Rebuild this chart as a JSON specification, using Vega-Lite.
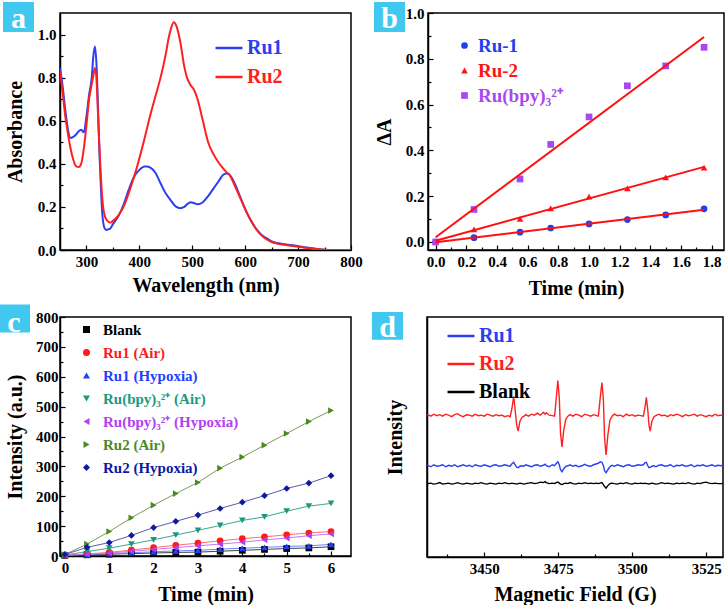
{
  "$schema": "https://vega.github.io/schema/vega-lite/v6.json",
  "padding": {"left": -3, "top": 1, "right": 0, "bottom": 0},
  "background": "white",
  "config": {
    "font": "Liberation Serif",
    "view": {"stroke": "black", "strokeWidth": 1.5},
    "axis": {
      "labelFont": "Liberation Serif", "labelFontSize": 15, "labelFontWeight": "bold", "labelColor": "black",
      "titleFont": "Liberation Serif", "titleFontSize": 20, "titleFontWeight": "bold", "titleColor": "black",
      "grid": false, "domainColor": "black", "domainWidth": 1.5, "tickColor": "black", "tickWidth": 1.2,
      "tickSize": -5, "labelPadding": 9, "labelFlush": false, "labelOverlap": false
    },
    "legend": {"labelFont": "Liberation Serif", "labelFontWeight": "bold", "labelLimit": 400, "padding": 0}
  },
  "spacing": 4,
  "resolve": {"scale": {"color": "independent", "shape": "independent", "stroke": "independent"}, "legend": {"color": "independent", "shape": "independent"}},
  "vconcat": [
    {
      "spacing": 10,
      "resolve": {"scale": {"color": "independent", "shape": "independent"}, "legend": {"color": "independent", "shape": "independent"}},
      "hconcat": [
        {
          "width": 291, "height": 237,
          "data": {"values": [
            {"wl": 250, "Ru1": 0.845, "Ru2": 0.83}, {"wl": 255, "Ru1": 0.76, "Ru2": 0.73}, {"wl": 260, "Ru1": 0.65, "Ru2": 0.62},
            {"wl": 265, "Ru1": 0.56, "Ru2": 0.54}, {"wl": 270, "Ru1": 0.52, "Ru2": 0.47}, {"wl": 275, "Ru1": 0.525, "Ru2": 0.42},
            {"wl": 280, "Ru1": 0.535, "Ru2": 0.39}, {"wl": 285, "Ru1": 0.55, "Ru2": 0.385}, {"wl": 290, "Ru1": 0.558, "Ru2": 0.4},
            {"wl": 295, "Ru1": 0.546, "Ru2": 0.47}, {"wl": 300, "Ru1": 0.62, "Ru2": 0.58}, {"wl": 305, "Ru1": 0.72, "Ru2": 0.7},
            {"wl": 310, "Ru1": 0.8, "Ru2": 0.77}, {"wl": 313, "Ru1": 0.9, "Ru2": 0.81}, {"wl": 316, "Ru1": 0.945, "Ru2": 0.845},
            {"wl": 319, "Ru1": 0.86, "Ru2": 0.79}, {"wl": 322, "Ru1": 0.65, "Ru2": 0.62}, {"wl": 325, "Ru1": 0.42, "Ru2": 0.45},
            {"wl": 328, "Ru1": 0.25, "Ru2": 0.31}, {"wl": 331, "Ru1": 0.14, "Ru2": 0.21}, {"wl": 335, "Ru1": 0.098, "Ru2": 0.155},
            {"wl": 338, "Ru1": 0.093, "Ru2": 0.14}, {"wl": 342, "Ru1": 0.097, "Ru2": 0.13}, {"wl": 345, "Ru1": 0.1, "Ru2": 0.127},
            {"wl": 350, "Ru1": 0.12, "Ru2": 0.135}, {"wl": 360, "Ru1": 0.155, "Ru2": 0.16}, {"wl": 370, "Ru1": 0.21, "Ru2": 0.2},
            {"wl": 380, "Ru1": 0.28, "Ru2": 0.265}, {"wl": 390, "Ru1": 0.34, "Ru2": 0.34}, {"wl": 400, "Ru1": 0.372, "Ru2": 0.425},
            {"wl": 410, "Ru1": 0.388, "Ru2": 0.52}, {"wl": 415, "Ru1": 0.388, "Ru2": 0.57}, {"wl": 420, "Ru1": 0.383, "Ru2": 0.62},
            {"wl": 430, "Ru1": 0.36, "Ru2": 0.71}, {"wl": 440, "Ru1": 0.31, "Ru2": 0.8}, {"wl": 450, "Ru1": 0.262, "Ru2": 0.91},
            {"wl": 455, "Ru1": 0.245, "Ru2": 0.98}, {"wl": 460, "Ru1": 0.228, "Ru2": 1.03}, {"wl": 465, "Ru1": 0.212, "Ru2": 1.057},
            {"wl": 470, "Ru1": 0.2, "Ru2": 1.04}, {"wl": 477, "Ru1": 0.194, "Ru2": 0.97}, {"wl": 485, "Ru1": 0.2, "Ru2": 0.85},
            {"wl": 490, "Ru1": 0.212, "Ru2": 0.8}, {"wl": 497, "Ru1": 0.222, "Ru2": 0.765}, {"wl": 503, "Ru1": 0.218, "Ru2": 0.745},
            {"wl": 510, "Ru1": 0.212, "Ru2": 0.7}, {"wl": 520, "Ru1": 0.222, "Ru2": 0.6}, {"wl": 530, "Ru1": 0.25, "Ru2": 0.5},
            {"wl": 540, "Ru1": 0.285, "Ru2": 0.445}, {"wl": 550, "Ru1": 0.32, "Ru2": 0.405}, {"wl": 558, "Ru1": 0.348, "Ru2": 0.38},
            {"wl": 565, "Ru1": 0.355, "Ru2": 0.36}, {"wl": 570, "Ru1": 0.35, "Ru2": 0.35}, {"wl": 580, "Ru1": 0.31, "Ru2": 0.3},
            {"wl": 590, "Ru1": 0.25, "Ru2": 0.245}, {"wl": 600, "Ru1": 0.19, "Ru2": 0.19}, {"wl": 610, "Ru1": 0.14, "Ru2": 0.14},
            {"wl": 620, "Ru1": 0.1, "Ru2": 0.1}, {"wl": 630, "Ru1": 0.072, "Ru2": 0.07}, {"wl": 640, "Ru1": 0.055, "Ru2": 0.05},
            {"wl": 650, "Ru1": 0.04, "Ru2": 0.037}, {"wl": 660, "Ru1": 0.033, "Ru2": 0.03}, {"wl": 680, "Ru1": 0.025, "Ru2": 0.022},
            {"wl": 700, "Ru1": 0.018, "Ru2": 0.015}, {"wl": 720, "Ru1": 0.01, "Ru2": 0.008}, {"wl": 740, "Ru1": 0.004, "Ru2": 0.003},
            {"wl": 760, "Ru1": 0.0, "Ru2": 0.0}, {"wl": 800, "Ru1": 0.0, "Ru2": 0.0}
          ]},
          "layer": [
            {
              "transform": [{"fold": ["Ru1", "Ru2"], "as": ["series", "abs"]}],
              "mark": {"type": "line", "strokeWidth": 2, "interpolate": "monotone", "clip": true},
              "encoding": {
                "x": {"field": "wl", "type": "quantitative", "scale": {"domain": [250, 800], "nice": false, "zero": false},
                      "axis": {"orient": "bottom", "values": [300, 400, 500, 600, 700, 800], "format": "d", "title": "Wavelength (nm)", "titlePadding": 6, "labelFont": "Liberation Serif"}},
                "y": {"field": "abs", "type": "quantitative", "scale": {"domain": [0, 1.1], "nice": false, "zero": false},
                      "axis": {"orient": "left", "values": [0, 0.2, 0.4, 0.6, 0.8, 1.0], "format": ".1f", "title": "Absorbance", "titlePadding": 12, "labelFont": "Liberation Serif"}},
                "color": {"field": "series", "type": "nominal", "scale": {"domain": ["Ru1", "Ru2"], "range": ["#2a3ff0", "#ff1f1f"]},
                  "legend": {"orient": "none", "legendX": 154, "legendY": 20, "title": null, "symbolType": "stroke", "symbolSize": 729,
                    "symbolStrokeWidth": 2.5, "labelFontSize": 20, "labelOffset": 3, "rowPadding": 4,
                    "encode": {"labels": {"update": {"fill": {"signal": "datum.value === 'Ru1' ? '#2a3ff0' : '#ff1f1f'"}}}}}}
              }
            },
            {
              "data": {"values": [{"label": "a"}]},
              "mark": {"type": "rect", "color": "#40c8f0", "clip": false},
              "encoding": {
                "x": {"datum": 142.3, "type": "quantitative", "scale": {"domain": [250, 800], "nice": false, "zero": false},
                      "axis": {"orient": "bottom", "values": [350, 450, 550, 650, 750], "labels": false, "domain": false, "title": null, "tickSize": -3}},
                "x2": {"datum": 200.9},
                "y": {"datum": 1.012, "type": "quantitative", "scale": {"domain": [0, 1.1], "nice": false, "zero": false},
                      "axis": {"orient": "left", "values": [0.1, 0.3, 0.5, 0.7, 0.9], "labels": false, "domain": false, "title": null, "tickSize": -3}},
                "y2": {"datum": 1.151}
              }
            },
            {
              "data": {"values": [{"label": "a"}]},
              "mark": {"type": "text", "color": "white", "font": "Liberation Serif", "fontSize": 30, "fontWeight": "bold", "align": "center", "baseline": "alphabetic", "clip": false},
              "encoding": {
                "x": {"datum": 171.6, "type": "quantitative", "axis": null},
                "y": {"datum": 1.03, "type": "quantitative", "axis": null},
                "text": {"field": "label"}
              }
            }
          ],
          "resolve": {"axis": {"x": "independent", "y": "independent"}}
        },
        {
          "width": 296, "height": 237,
          "data": {"values": [
            {"t": 0, "s": "Ru-1", "v": 0.0}, {"t": 0.25, "s": "Ru-1", "v": 0.019}, {"t": 0.55, "s": "Ru-1", "v": 0.043}, {"t": 0.75, "s": "Ru-1", "v": 0.061},
            {"t": 1.0, "s": "Ru-1", "v": 0.079}, {"t": 1.25, "s": "Ru-1", "v": 0.098}, {"t": 1.5, "s": "Ru-1", "v": 0.118}, {"t": 1.75, "s": "Ru-1", "v": 0.145},
            {"t": 0, "s": "Ru-2", "v": 0.002}, {"t": 0.25, "s": "Ru-2", "v": 0.055}, {"t": 0.55, "s": "Ru-2", "v": 0.101}, {"t": 0.75, "s": "Ru-2", "v": 0.147},
            {"t": 1.0, "s": "Ru-2", "v": 0.198}, {"t": 1.25, "s": "Ru-2", "v": 0.234}, {"t": 1.5, "s": "Ru-2", "v": 0.282}, {"t": 1.75, "s": "Ru-2", "v": 0.325},
            {"t": 0, "s": "Ru(bpy)₃²⁺", "v": 0.0}, {"t": 0.25, "s": "Ru(bpy)₃²⁺", "v": 0.142}, {"t": 0.55, "s": "Ru(bpy)₃²⁺", "v": 0.275}, {"t": 0.75, "s": "Ru(bpy)₃²⁺", "v": 0.426},
            {"t": 1.0, "s": "Ru(bpy)₃²⁺", "v": 0.546}, {"t": 1.25, "s": "Ru(bpy)₃²⁺", "v": 0.682}, {"t": 1.5, "s": "Ru(bpy)₃²⁺", "v": 0.769}, {"t": 1.75, "s": "Ru(bpy)₃²⁺", "v": 0.85}
          ]},
          "layer": [
            {
              "mark": {"type": "point", "filled": true, "size": 45, "opacity": 1},
              "encoding": {
                "x": {"field": "t", "type": "quantitative", "scale": {"domain": [-0.05, 1.88], "nice": false, "zero": false},
                      "axis": {"orient": "bottom", "values": [0, 0.2, 0.4, 0.6, 0.8, 1.0, 1.2, 1.4, 1.6, 1.8], "format": ".1f", "title": "Time (min)", "titlePadding": 9, "labelFont": "Liberation Serif"}},
                "y": {"field": "v", "type": "quantitative", "scale": {"domain": [-0.035, 1.0], "nice": false, "zero": false},
                      "axis": {"orient": "left", "values": [0, 0.2, 0.4, 0.6, 0.8, 1.0], "format": ".1f", "title": "ΔA", "titlePadding": 11, "labelFont": "Liberation Serif"}},
                "color": {"field": "s", "type": "nominal", "scale": {"domain": ["Ru-1", "Ru-2", "Ru(bpy)₃²⁺"], "range": ["#2040f0", "#ff1515", "#a848f0"]},
                  "legend": {"orient": "none", "legendX": 27, "legendY": 23, "title": null, "symbolSize": 45, "labelFontSize": 19, "labelOffset": 4, "rowPadding": 5,
                    "labelColor": {"expr": "datum.value === 'Ru-1' ? '#2040f0' : datum.value === 'Ru-2' ? '#ff1515' : '#a848f0'"},
                    "symbolType": {"expr": "datum.value === 'Ru-1' ? 'circle' : datum.value === 'Ru-2' ? 'triangle-up' : 'square'"}}},
                "shape": {"field": "s", "type": "nominal", "scale": {"range": ["square", "circle", "triangle-up"]}, "legend": null}
              }
            },
            {
              "transform": [{"regression": "v", "on": "t", "groupby": ["s"]}],
              "mark": {"type": "line", "color": "#ff1010", "strokeWidth": 2},
              "encoding": {
                "x": {"field": "t", "type": "quantitative", "axis": null},
                "y": {"field": "v", "type": "quantitative", "axis": null},
                "detail": {"field": "s"}
              }
            },
            {
              "data": {"values": [{"label": "b"}]},
              "mark": {"type": "rect", "color": "#40c8f0", "clip": false},
              "encoding": {
                "x": {"datum": -0.402, "type": "quantitative", "scale": {"domain": [-0.05, 1.88], "nice": false, "zero": false},
                      "axis": {"orient": "bottom", "values": [0.1, 0.3, 0.5, 0.7, 0.9, 1.1, 1.3, 1.5, 1.7], "labels": false, "domain": false, "title": null, "tickSize": -3}},
                "x2": {"datum": -0.2},
                "y": {"datum": 0.917, "type": "quantitative", "scale": {"domain": [-0.035, 1.0], "nice": false, "zero": false},
                      "axis": {"orient": "left", "values": [0.1, 0.3, 0.5, 0.7, 0.9], "labels": false, "domain": false, "title": null, "tickSize": -3}},
                "y2": {"datum": 1.048}
              }
            },
            {
              "data": {"values": [{"label": "b"}]},
              "mark": {"type": "text", "color": "white", "font": "Liberation Serif", "fontSize": 30, "fontWeight": "bold", "align": "center", "baseline": "alphabetic", "clip": false},
              "encoding": {
                "x": {"datum": -0.301, "type": "quantitative", "axis": null},
                "y": {"datum": 0.935, "type": "quantitative", "axis": null},
                "text": {"field": "label"}
              }
            }
          ],
          "resolve": {"axis": {"x": "independent", "y": "independent"}}
        }
      ]
    },
    {
      "spacing": 19,
      "resolve": {"scale": {"color": "independent", "shape": "independent", "stroke": "independent"}, "legend": {"color": "independent", "shape": "independent"}},
      "hconcat": [
        {
          "width": 291, "height": 239,
          "data": {"values": [
            {"t": 0, "s": "Blank", "v": 2}, {"t": 0.5, "s": "Blank", "v": 4}, {"t": 1, "s": "Blank", "v": 6}, {"t": 1.5, "s": "Blank", "v": 8}, {"t": 2, "s": "Blank", "v": 10},
            {"t": 2.5, "s": "Blank", "v": 12}, {"t": 3, "s": "Blank", "v": 13}, {"t": 3.5, "s": "Blank", "v": 16}, {"t": 4, "s": "Blank", "v": 19}, {"t": 4.5, "s": "Blank", "v": 22},
            {"t": 5, "s": "Blank", "v": 25}, {"t": 5.5, "s": "Blank", "v": 27}, {"t": 6, "s": "Blank", "v": 31},
            {"t": 0, "s": "Ru1 (Air)", "v": 3}, {"t": 0.5, "s": "Ru1 (Air)", "v": 7}, {"t": 1, "s": "Ru1 (Air)", "v": 12}, {"t": 1.5, "s": "Ru1 (Air)", "v": 20}, {"t": 2, "s": "Ru1 (Air)", "v": 28},
            {"t": 2.5, "s": "Ru1 (Air)", "v": 36}, {"t": 3, "s": "Ru1 (Air)", "v": 43}, {"t": 3.5, "s": "Ru1 (Air)", "v": 51}, {"t": 4, "s": "Ru1 (Air)", "v": 58}, {"t": 4.5, "s": "Ru1 (Air)", "v": 64},
            {"t": 5, "s": "Ru1 (Air)", "v": 71}, {"t": 5.5, "s": "Ru1 (Air)", "v": 77}, {"t": 6, "s": "Ru1 (Air)", "v": 82},
            {"t": 0, "s": "Ru1 (Hypoxia)", "v": 3}, {"t": 0.5, "s": "Ru1 (Hypoxia)", "v": 5}, {"t": 1, "s": "Ru1 (Hypoxia)", "v": 8}, {"t": 1.5, "s": "Ru1 (Hypoxia)", "v": 11}, {"t": 2, "s": "Ru1 (Hypoxia)", "v": 14},
            {"t": 2.5, "s": "Ru1 (Hypoxia)", "v": 17}, {"t": 3, "s": "Ru1 (Hypoxia)", "v": 19}, {"t": 3.5, "s": "Ru1 (Hypoxia)", "v": 23}, {"t": 4, "s": "Ru1 (Hypoxia)", "v": 26}, {"t": 4.5, "s": "Ru1 (Hypoxia)", "v": 29},
            {"t": 5, "s": "Ru1 (Hypoxia)", "v": 32}, {"t": 5.5, "s": "Ru1 (Hypoxia)", "v": 34}, {"t": 6, "s": "Ru1 (Hypoxia)", "v": 39},
            {"t": 0, "s": "Ru(bpy)₃²⁺ (Air)", "v": 3}, {"t": 0.5, "s": "Ru(bpy)₃²⁺ (Air)", "v": 15}, {"t": 1, "s": "Ru(bpy)₃²⁺ (Air)", "v": 26}, {"t": 1.5, "s": "Ru(bpy)₃²⁺ (Air)", "v": 40}, {"t": 2, "s": "Ru(bpy)₃²⁺ (Air)", "v": 54},
            {"t": 2.5, "s": "Ru(bpy)₃²⁺ (Air)", "v": 70}, {"t": 3, "s": "Ru(bpy)₃²⁺ (Air)", "v": 86}, {"t": 3.5, "s": "Ru(bpy)₃²⁺ (Air)", "v": 102}, {"t": 4, "s": "Ru(bpy)₃²⁺ (Air)", "v": 119}, {"t": 4.5, "s": "Ru(bpy)₃²⁺ (Air)", "v": 131},
            {"t": 5, "s": "Ru(bpy)₃²⁺ (Air)", "v": 150}, {"t": 5.5, "s": "Ru(bpy)₃²⁺ (Air)", "v": 167}, {"t": 6, "s": "Ru(bpy)₃²⁺ (Air)", "v": 176},
            {"t": 0, "s": "Ru(bpy)₃²⁺ (Hypoxia)", "v": 3}, {"t": 0.5, "s": "Ru(bpy)₃²⁺ (Hypoxia)", "v": 6}, {"t": 1, "s": "Ru(bpy)₃²⁺ (Hypoxia)", "v": 10}, {"t": 1.5, "s": "Ru(bpy)₃²⁺ (Hypoxia)", "v": 16}, {"t": 2, "s": "Ru(bpy)₃²⁺ (Hypoxia)", "v": 22},
            {"t": 2.5, "s": "Ru(bpy)₃²⁺ (Hypoxia)", "v": 28}, {"t": 3, "s": "Ru(bpy)₃²⁺ (Hypoxia)", "v": 34}, {"t": 3.5, "s": "Ru(bpy)₃²⁺ (Hypoxia)", "v": 40}, {"t": 4, "s": "Ru(bpy)₃²⁺ (Hypoxia)", "v": 46}, {"t": 4.5, "s": "Ru(bpy)₃²⁺ (Hypoxia)", "v": 54},
            {"t": 5, "s": "Ru(bpy)₃²⁺ (Hypoxia)", "v": 60}, {"t": 5.5, "s": "Ru(bpy)₃²⁺ (Hypoxia)", "v": 68}, {"t": 6, "s": "Ru(bpy)₃²⁺ (Hypoxia)", "v": 74},
            {"t": 0, "s": "Ru2 (Air)", "v": 5}, {"t": 0.5, "s": "Ru2 (Air)", "v": 40}, {"t": 1, "s": "Ru2 (Air)", "v": 82}, {"t": 1.5, "s": "Ru2 (Air)", "v": 128}, {"t": 2, "s": "Ru2 (Air)", "v": 170},
            {"t": 2.5, "s": "Ru2 (Air)", "v": 209}, {"t": 3, "s": "Ru2 (Air)", "v": 246}, {"t": 3.5, "s": "Ru2 (Air)", "v": 294}, {"t": 4, "s": "Ru2 (Air)", "v": 331}, {"t": 4.5, "s": "Ru2 (Air)", "v": 371},
            {"t": 5, "s": "Ru2 (Air)", "v": 410}, {"t": 5.5, "s": "Ru2 (Air)", "v": 450}, {"t": 6, "s": "Ru2 (Air)", "v": 487},
            {"t": 0, "s": "Ru2 (Hypoxia)", "v": 5}, {"t": 0.5, "s": "Ru2 (Hypoxia)", "v": 29}, {"t": 1, "s": "Ru2 (Hypoxia)", "v": 45}, {"t": 1.5, "s": "Ru2 (Hypoxia)", "v": 69}, {"t": 2, "s": "Ru2 (Hypoxia)", "v": 95},
            {"t": 2.5, "s": "Ru2 (Hypoxia)", "v": 116}, {"t": 3, "s": "Ru2 (Hypoxia)", "v": 137}, {"t": 3.5, "s": "Ru2 (Hypoxia)", "v": 159}, {"t": 4, "s": "Ru2 (Hypoxia)", "v": 180}, {"t": 4.5, "s": "Ru2 (Hypoxia)", "v": 202},
            {"t": 5, "s": "Ru2 (Hypoxia)", "v": 226}, {"t": 5.5, "s": "Ru2 (Hypoxia)", "v": 244}, {"t": 6, "s": "Ru2 (Hypoxia)", "v": 269}
          ]},
          "layer": [
            {
              "mark": {"type": "line", "strokeWidth": 1},
              "encoding": {
                "x": {"field": "t", "type": "quantitative", "scale": {"domain": [-0.11, 6.45], "nice": false, "zero": false},
                      "axis": {"orient": "bottom", "values": [0, 1, 2, 3, 4, 5, 6], "format": "d", "title": "Time (min)", "titlePadding": 9, "labelFont": "Liberation Serif"}},
                "y": {"field": "v", "type": "quantitative", "scale": {"domain": [0, 800], "nice": false, "zero": false},
                      "axis": {"orient": "left", "values": [0, 100, 200, 300, 400, 500, 600, 700, 800], "format": "d", "title": "Intensity (a.u.)", "titlePadding": 10, "labelPadding": 7, "labelFont": "Liberation Serif"}},
                "detail": {"field": "s"},
                "stroke": {"field": "s", "type": "nominal", "title": "lines",
                  "scale": {"range": ["#444444", "#3aa890", "#c47af2", "#ff7070", "#6a86ff", "#7a9a5a", "#5a5aa8"]},
                  "legend": null}
              }
            },
            {
              "mark": {"type": "point", "filled": true, "size": 45, "opacity": 1},
              "encoding": {
                "x": {"field": "t", "type": "quantitative", "axis": null},
                "y": {"field": "v", "type": "quantitative", "axis": null},
                "color": {"field": "s", "type": "nominal",
                  "scale": {"domain": ["Blank", "Ru1 (Air)", "Ru1 (Hypoxia)", "Ru(bpy)₃²⁺ (Air)", "Ru(bpy)₃²⁺ (Hypoxia)", "Ru2 (Air)", "Ru2 (Hypoxia)"],
                            "range": ["#000000", "#ff1a1a", "#1f3fff", "#1a9a7c", "#b040f0", "#4a8a1f", "#0d1a9f"]},
                  "legend": {"orient": "none", "legendX": 19, "legendY": 5, "title": null, "symbolSize": 49, "labelFontSize": 15, "labelOffset": 9, "rowPadding": 7,
                    "labelColor": {"expr": "datum.value === 'Blank' ? '#000000' : datum.value === 'Ru1 (Air)' ? '#ff1a1a' : datum.value === 'Ru1 (Hypoxia)' ? '#1f3fff' : datum.value === 'Ru2 (Air)' ? '#4a8a1f' : datum.value === 'Ru2 (Hypoxia)' ? '#0d1a9f' : datum.value === 'Ru(bpy)₃²⁺ (Air)' ? '#1a9a7c' : '#b040f0'"},
                    "symbolType": {"expr": "datum.value === 'Blank' ? 'square' : datum.value === 'Ru1 (Air)' ? 'circle' : datum.value === 'Ru1 (Hypoxia)' ? 'triangle-up' : datum.value === 'Ru(bpy)₃²⁺ (Air)' ? 'triangle-down' : datum.value === 'Ru(bpy)₃²⁺ (Hypoxia)' ? 'triangle-left' : datum.value === 'Ru2 (Air)' ? 'triangle-right' : 'diamond'"}}},
                "shape": {"field": "s", "type": "nominal",
                  "scale": {"range": ["square", "triangle-down", "triangle-left", "circle", "triangle-up", "triangle-right", "diamond"]},
                  "legend": null}
              }
            },
            {
              "data": {"values": [{"label": "c"}]},
              "mark": {"type": "rect", "color": "#40c8f0", "clip": false},
              "encoding": {
                "x": {"datum": -1.509, "type": "quantitative", "scale": {"domain": [-0.11, 6.45], "nice": false, "zero": false},
                      "axis": {"orient": "bottom", "values": [0.5, 1.5, 2.5, 3.5, 4.5, 5.5], "labels": false, "domain": false, "title": null, "tickSize": -3}},
                "x2": {"datum": -0.787},
                "y": {"datum": 748, "type": "quantitative", "scale": {"domain": [0, 800], "nice": false, "zero": false},
                      "axis": {"orient": "left", "values": [50, 150, 250, 350, 450, 550, 650, 750], "labels": false, "domain": false, "title": null, "tickSize": -3}},
                "y2": {"datum": 842}
              }
            },
            {
              "data": {"values": [{"label": "c"}]},
              "mark": {"type": "text", "color": "white", "font": "Liberation Serif", "fontSize": 30, "fontWeight": "bold", "align": "center", "baseline": "alphabetic", "clip": false},
              "encoding": {
                "x": {"datum": -1.148, "type": "quantitative", "axis": null},
                "y": {"datum": 751, "type": "quantitative", "axis": null},
                "text": {"field": "label"}
              }
            }
          ],
          "resolve": {"axis": {"x": "independent", "y": "independent"}}
        },
        {
          "width": 296, "height": 240,
          "data": {"values": [
            {"B": 3430.8, "Ru1": 92, "Ru2": 143, "Blank": 74},
            {"B": 3431, "Ru1": 92.5, "Ru2": 143.5, "Blank": 74}, {"B": 3432, "Ru1": 91, "Ru2": 142, "Blank": 74.5}, {"B": 3433, "Ru1": 93, "Ru2": 144, "Blank": 73.5},
            {"B": 3434, "Ru1": 91.5, "Ru2": 142.5, "Blank": 74}, {"B": 3435, "Ru1": 92, "Ru2": 143.5, "Blank": 75}, {"B": 3436, "Ru1": 93, "Ru2": 142, "Blank": 73.5},
            {"B": 3437, "Ru1": 91, "Ru2": 144, "Blank": 74}, {"B": 3438, "Ru1": 92.5, "Ru2": 143, "Blank": 74.5}, {"B": 3439, "Ru1": 91.5, "Ru2": 141.5, "Blank": 73.5},
            {"B": 3440, "Ru1": 93, "Ru2": 143.5, "Blank": 74}, {"B": 3441, "Ru1": 91, "Ru2": 144.5, "Blank": 75}, {"B": 3442, "Ru1": 92, "Ru2": 142.5, "Blank": 74},
            {"B": 3443, "Ru1": 93, "Ru2": 141.5, "Blank": 73.5}, {"B": 3444, "Ru1": 91.5, "Ru2": 143.5, "Blank": 74.5}, {"B": 3445, "Ru1": 92.5, "Ru2": 143, "Blank": 74},
            {"B": 3446, "Ru1": 91, "Ru2": 142, "Blank": 73.5}, {"B": 3447, "Ru1": 93, "Ru2": 144, "Blank": 74.5}, {"B": 3448, "Ru1": 92, "Ru2": 142.5, "Blank": 74},
            {"B": 3449, "Ru1": 91.5, "Ru2": 143, "Blank": 75}, {"B": 3450, "Ru1": 93, "Ru2": 142, "Blank": 74}, {"B": 3451, "Ru1": 92, "Ru2": 144, "Blank": 73.5},
            {"B": 3452, "Ru1": 91, "Ru2": 143, "Blank": 74.5}, {"B": 3453, "Ru1": 92.5, "Ru2": 142, "Blank": 74}, {"B": 3454, "Ru1": 93, "Ru2": 143.5, "Blank": 73.5},
            {"B": 3455, "Ru1": 91.5, "Ru2": 142.5, "Blank": 74.5}, {"B": 3456, "Ru1": 92, "Ru2": 143, "Blank": 74}, {"B": 3457, "Ru1": 93, "Ru2": 141.5, "Blank": 75},
            {"B": 3458, "Ru1": 92, "Ru2": 142.5, "Blank": 74}, {"B": 3458.8, "Ru1": 91.5, "Ru2": 141.5, "Blank": 74}, {"B": 3459.4, "Ru1": 94, "Ru2": 150, "Blank": 74.5},
            {"B": 3460.0, "Ru1": 95.5, "Ru2": 162, "Blank": 74}, {"B": 3460.5, "Ru1": 93, "Ru2": 148, "Blank": 74}, {"B": 3461.0, "Ru1": 90.5, "Ru2": 133, "Blank": 73.5},
            {"B": 3461.5, "Ru1": 90, "Ru2": 127, "Blank": 74}, {"B": 3462.1, "Ru1": 91.5, "Ru2": 137, "Blank": 74.5}, {"B": 3462.8, "Ru1": 92, "Ru2": 141, "Blank": 74},
            {"B": 3463.5, "Ru1": 91.5, "Ru2": 142, "Blank": 73.5}, {"B": 3464, "Ru1": 93, "Ru2": 143.5, "Blank": 74}, {"B": 3465, "Ru1": 92, "Ru2": 142, "Blank": 74.5},
            {"B": 3466, "Ru1": 91, "Ru2": 144, "Blank": 75}, {"B": 3467, "Ru1": 92.5, "Ru2": 143, "Blank": 74}, {"B": 3468, "Ru1": 93, "Ru2": 145, "Blank": 74.5},
            {"B": 3469, "Ru1": 91.5, "Ru2": 143, "Blank": 75.5}, {"B": 3470, "Ru1": 92.5, "Ru2": 146, "Blank": 75}, {"B": 3470.6, "Ru1": 93.5, "Ru2": 144, "Blank": 76},
            {"B": 3471, "Ru1": 92, "Ru2": 145.5, "Blank": 75}, {"B": 3472, "Ru1": 91, "Ru2": 143, "Blank": 74}, {"B": 3473, "Ru1": 93, "Ru2": 142.5, "Blank": 74.5},
            {"B": 3473.8, "Ru1": 92, "Ru2": 142, "Blank": 74}, {"B": 3474.3, "Ru1": 94, "Ru2": 158, "Blank": 75}, {"B": 3474.9, "Ru1": 96, "Ru2": 178, "Blank": 75.5},
            {"B": 3475.4, "Ru1": 93, "Ru2": 160, "Blank": 74.5}, {"B": 3475.8, "Ru1": 88, "Ru2": 125, "Blank": 73.5}, {"B": 3476.3, "Ru1": 86, "Ru2": 111, "Blank": 73},
            {"B": 3476.9, "Ru1": 89, "Ru2": 128, "Blank": 74}, {"B": 3477.6, "Ru1": 91.5, "Ru2": 139, "Blank": 74.5}, {"B": 3478.3, "Ru1": 92, "Ru2": 142, "Blank": 74},
            {"B": 3479, "Ru1": 93, "Ru2": 143.5, "Blank": 75}, {"B": 3480, "Ru1": 91.5, "Ru2": 142, "Blank": 74}, {"B": 3481, "Ru1": 92.5, "Ru2": 144, "Blank": 73.5},
            {"B": 3482, "Ru1": 91, "Ru2": 143, "Blank": 74.5}, {"B": 3483, "Ru1": 92, "Ru2": 141.5, "Blank": 74}, {"B": 3484, "Ru1": 93.5, "Ru2": 144, "Blank": 75},
            {"B": 3485, "Ru1": 92, "Ru2": 143, "Blank": 74}, {"B": 3486, "Ru1": 91.5, "Ru2": 142, "Blank": 74.5}, {"B": 3487, "Ru1": 93, "Ru2": 143.5, "Blank": 74},
            {"B": 3488, "Ru1": 94, "Ru2": 142.5, "Blank": 74.5}, {"B": 3488.6, "Ru1": 94.5, "Ru2": 142, "Blank": 74}, {"B": 3489.2, "Ru1": 96, "Ru2": 160, "Blank": 74.5},
            {"B": 3489.8, "Ru1": 95.5, "Ru2": 176, "Blank": 75}, {"B": 3490.3, "Ru1": 92, "Ru2": 158, "Blank": 73}, {"B": 3490.7, "Ru1": 87, "Ru2": 120, "Blank": 71},
            {"B": 3491.2, "Ru1": 85, "Ru2": 103, "Blank": 69.5}, {"B": 3491.8, "Ru1": 88, "Ru2": 123, "Blank": 72}, {"B": 3492.5, "Ru1": 91, "Ru2": 138, "Blank": 74},
            {"B": 3493.2, "Ru1": 92.5, "Ru2": 142, "Blank": 74.5}, {"B": 3494, "Ru1": 91.5, "Ru2": 144, "Blank": 74}, {"B": 3495, "Ru1": 93, "Ru2": 142.5, "Blank": 73.5},
            {"B": 3496, "Ru1": 92, "Ru2": 143, "Blank": 74.5}, {"B": 3497, "Ru1": 91, "Ru2": 141.5, "Blank": 74}, {"B": 3498, "Ru1": 92.5, "Ru2": 144, "Blank": 75},
            {"B": 3499, "Ru1": 93, "Ru2": 142.5, "Blank": 74}, {"B": 3500, "Ru1": 91.5, "Ru2": 143.5, "Blank": 73.5}, {"B": 3501, "Ru1": 92, "Ru2": 142, "Blank": 74.5},
            {"B": 3502, "Ru1": 93, "Ru2": 143, "Blank": 74}, {"B": 3503, "Ru1": 92.5, "Ru2": 142.5, "Blank": 74.5}, {"B": 3503.8, "Ru1": 93, "Ru2": 142, "Blank": 74},
            {"B": 3504.3, "Ru1": 95, "Ru2": 150, "Blank": 74.5}, {"B": 3504.8, "Ru1": 95.5, "Ru2": 161, "Blank": 74}, {"B": 3505.3, "Ru1": 92, "Ru2": 148, "Blank": 74},
            {"B": 3505.7, "Ru1": 90, "Ru2": 133, "Blank": 73.5}, {"B": 3506.1, "Ru1": 90.5, "Ru2": 127, "Blank": 74}, {"B": 3506.7, "Ru1": 91.5, "Ru2": 137, "Blank": 74.5},
            {"B": 3507.4, "Ru1": 92, "Ru2": 141.5, "Blank": 74}, {"B": 3508, "Ru1": 91, "Ru2": 142.5, "Blank": 73.5}, {"B": 3509, "Ru1": 92.5, "Ru2": 144, "Blank": 74},
            {"B": 3510, "Ru1": 93, "Ru2": 142.5, "Blank": 75}, {"B": 3511, "Ru1": 91.5, "Ru2": 143, "Blank": 74}, {"B": 3512, "Ru1": 92, "Ru2": 141.5, "Blank": 74.5},
            {"B": 3513, "Ru1": 93, "Ru2": 143.5, "Blank": 74}, {"B": 3514, "Ru1": 91, "Ru2": 142.5, "Blank": 73.5}, {"B": 3515, "Ru1": 92.5, "Ru2": 144, "Blank": 74.5},
            {"B": 3516, "Ru1": 92, "Ru2": 143, "Blank": 74}, {"B": 3517, "Ru1": 93, "Ru2": 141.5, "Blank": 74.5}, {"B": 3518, "Ru1": 91.5, "Ru2": 143.5, "Blank": 74},
            {"B": 3519, "Ru1": 92, "Ru2": 142.5, "Blank": 75}, {"B": 3520, "Ru1": 93, "Ru2": 143, "Blank": 74}, {"B": 3521, "Ru1": 91, "Ru2": 144, "Blank": 73.5},
            {"B": 3522, "Ru1": 92.5, "Ru2": 142, "Blank": 74.5}, {"B": 3523, "Ru1": 92, "Ru2": 143.5, "Blank": 74}, {"B": 3524, "Ru1": 93, "Ru2": 142.5, "Blank": 75},
            {"B": 3525, "Ru1": 91.5, "Ru2": 141.5, "Blank": 75.5}, {"B": 3526, "Ru1": 92, "Ru2": 143, "Blank": 74.5}, {"B": 3527, "Ru1": 93, "Ru2": 142, "Blank": 74},
            {"B": 3528, "Ru1": 91.5, "Ru2": 144, "Blank": 74.5}, {"B": 3529, "Ru1": 92.5, "Ru2": 142.5, "Blank": 74}, {"B": 3530, "Ru1": 92, "Ru2": 143, "Blank": 74},
            {"B": 3530.7, "Ru1": 92.5, "Ru2": 142.5, "Blank": 74}
          ]},
          "layer": [
            {
              "transform": [{"fold": ["Ru1", "Ru2", "Blank"], "as": ["series", "intensity"]}],
              "mark": {"type": "line", "strokeWidth": 1.4, "clip": true},
              "encoding": {
                "x": {"field": "B", "type": "quantitative", "scale": {"domain": [3430.7, 3530.7], "nice": false, "zero": false},
                      "axis": {"orient": "bottom", "values": [3450, 3475, 3500, 3525], "format": "d", "title": "Magnetic Field (G)", "titlePadding": 8, "labelFont": "Liberation Serif"}},
                "y": {"field": "intensity", "type": "quantitative", "scale": {"domain": [0, 242], "nice": false, "zero": false},
                      "axis": {"orient": "left", "ticks": false, "labels": false, "title": "Intensity", "titlePadding": 22}},
                "color": {"field": "series", "type": "nominal", "scale": {"domain": ["Ru1", "Ru2", "Blank"], "range": ["#2a3ff0", "#ff1f1f", "#000000"]},
                  "legend": {"orient": "none", "legendX": 19, "legendY": 4, "title": null, "symbolType": "stroke", "symbolSize": 729,
                    "symbolStrokeWidth": 2.5, "labelFontSize": 20, "labelOffset": 3, "rowPadding": 3,
                    "encode": {"labels": {"update": {"fill": {"signal": "datum.value === 'Ru1' ? '#2a3ff0' : datum.value === 'Ru2' ? '#ff1f1f' : '#000000'"}}}}}}
              }
            },
            {
              "data": {"values": [{"label": "d"}]},
              "mark": {"type": "rect", "color": "#40c8f0", "clip": false},
              "encoding": {
                "x": {"datum": 3412.1, "type": "quantitative", "scale": {"domain": [3430.7, 3530.7], "nice": false, "zero": false},
                      "axis": {"orient": "bottom", "values": [3437.5, 3462.5, 3487.5, 3512.5], "labels": false, "domain": false, "title": null, "tickSize": -3}},
                "x2": {"datum": 3422.6},
                "y": {"datum": 219, "type": "quantitative", "scale": {"domain": [0, 242], "nice": false, "zero": false}, "axis": null},
                "y2": {"datum": 247}
              }
            },
            {
              "data": {"values": [{"label": "d"}]},
              "mark": {"type": "text", "color": "white", "font": "Liberation Serif", "fontSize": 30, "fontWeight": "bold", "align": "center", "baseline": "alphabetic", "clip": false},
              "encoding": {
                "x": {"datum": 3417.4, "type": "quantitative", "axis": null},
                "y": {"datum": 222, "type": "quantitative", "axis": null},
                "text": {"field": "label"}
              }
            }
          ],
          "resolve": {"axis": {"x": "independent", "y": "independent"}}
        }
      ]
    }
  ]
}
